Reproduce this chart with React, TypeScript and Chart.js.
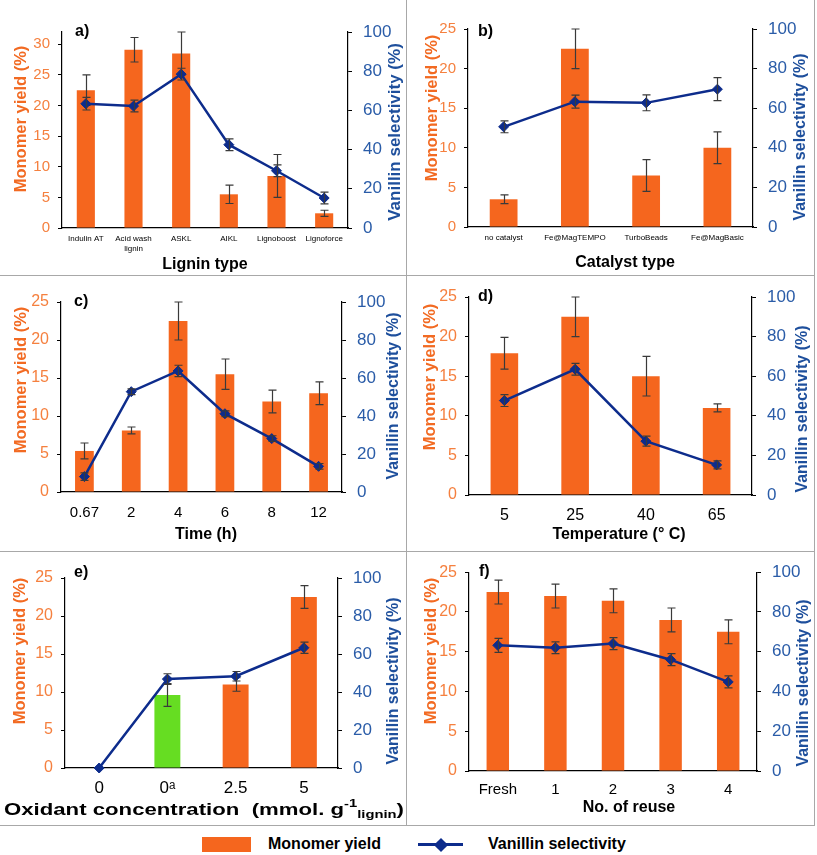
import React, { useEffect, useRef } from "react";
import { Chart, registerables } from "chart.js";
Chart.register(...registerables);

// ---------------- Data ----------------
const ligninLabels = ["Indulin AT", ["Acid wash", "lignin"], "ASKL", "AIKL", "Lignoboost", "Lignoforce"];
const ligninYield = [22.5, 29.1, 28.5, 5.5, 8.5, 2.4];
const ligninYieldErr = [2.5, 2.0, 3.5, 1.5, 3.5, 0.5];
const ligninSelectivity = [63.4, 62.2, 78.5, 42.5, 29.2, 15.3];
const ligninSelectivityErr = [3.2, 3.0, 3.0, 3.0, 3.0, 3.0];

const catalystLabels = ["no catalyst", "Fe@MagTEMPO", "TurboBeads", "Fe@MagBasic"];
const catalystYield = [3.5, 22.5, 6.5, 10.0];
const catalystYieldErr = [0.55, 2.5, 2.0, 2.0];
const catalystSelectivity = [50.6, 63.3, 62.7, 69.6];
const catalystSelectivityErr = [3.0, 3.3, 4.0, 5.8];

const timeLabels = ["0.67", "2", "4", "6", "8", "12"];
const timeYield = [5.4, 8.1, 22.5, 15.5, 11.9, 13.0];
const timeYieldErr = [1.05, 0.45, 2.5, 2.0, 1.5, 1.5];
const timeSelectivity = [8.1, 52.8, 63.7, 41.2, 28.1, 13.5];
const timeSelectivityErr = [2.0, 1.5, 3.0, 1.5, 1.5, 1.5];

const tempLabels = ["5", "25", "40", "65"];
const tempYield = [17.9, 22.5, 15.0, 11.0];
const tempYieldErr = [2.0, 2.5, 2.5, 0.5];
const tempSelectivity = [47.7, 63.5, 27.2, 15.2];
const tempSelectivityErr = [3.0, 3.0, 2.5, 2.0];

const oxidantLabels = ["0", "0\u1d43", "2.5", "5"];
const oxidantYield = [0, 9.6, 11.0, 22.5];
const oxidantYieldErr = [0, 1.5, 0.9, 1.5];
const oxidantSelectivity = [0, 46.8, 48.3, 63.3];
const oxidantSelectivityErr = [0, 2.8, 2.5, 3.0];

const reuseLabels = ["Fresh", "1", "2", "3", "4"];
const reuseYield = [22.5, 22.0, 21.4, 19.0, 17.5];
const reuseYieldErr = [1.5, 1.5, 1.5, 1.5, 1.5];
const reuseSelectivity = [63.2, 62.0, 64.1, 56.0, 44.8];
const reuseSelectivityErr = [3.5, 3.0, 3.0, 3.0, 3.0];

const yieldTitle = "Monomer yield (%)";
const selectivityTitle = "Vanillin selectivity (%)";
const legendYield = "Monomer yield";
const legendSelectivity = "Vanillin selectivity";

// ---------------- Styles ----------------
const FF = "'Liberation Sans', Arial, Helvetica, sans-serif";
const ORANGE = "#F5661E";
const GREEN = "#66DD22";
const ORANGE_TICK = "#F5803F";
const ORANGE_TITLE = "#F26A22";
const BLUE = "#0D2C8C";
const BLUE_TICK = "#2A5CA8";
const BLUE_TITLE = "#1E4F9C";
const ERR = "#3a3a3a";

type Spec = any;

const panels: Spec[] = [
  {
    key: "a", box: [0, 0, 406, 275], plot: [62, 32, 348, 228],
    labels: ligninLabels, yieldData: ligninYield, yieldErr: ligninYieldErr,
    selData: ligninSelectivity, selErr: ligninSelectivityErr, yMax: 32,
    letter: "a)", letterPos: [75, 32],
    leftTitlePos: [21, 119], leftTitleSize: 16.5,
    rightTitlePos: [395, 132], rightTitleSize: 17,
    xTitle: "Lignin type", xTitlePos: [205, 265],
    xTickFont: 8, xTickPad: 6, barPct: 0.38, leftTickFont: 15,
  },
  {
    key: "b", box: [406, 0, 817, 275], plot: [468, 29, 753, 227],
    labels: catalystLabels, yieldData: catalystYield, yieldErr: catalystYieldErr,
    selData: catalystSelectivity, selErr: catalystSelectivityErr, yMax: 25,
    letter: "b)", letterPos: [478, 32],
    leftTitlePos: [432, 108], leftTitleSize: 16.5,
    rightTitlePos: [801, 137], rightTitleSize: 16,
    xTitle: "Catalyst type", xTitlePos: [625, 263],
    xTickFont: 8, xTickPad: 6, barPct: 0.39, leftTickFont: 15,
  },
  {
    key: "c", box: [0, 275, 406, 551], plot: [61, 302, 342, 492],
    labels: timeLabels, yieldData: timeYield, yieldErr: timeYieldErr,
    selData: timeSelectivity, selErr: timeSelectivityErr, yMax: 25,
    letter: "c)", letterPos: [74, 302],
    leftTitlePos: [21, 380], leftTitleSize: 16.5,
    rightTitlePos: [394, 396], rightTitleSize: 16,
    xTitle: "Time (h)", xTitlePos: [206, 535],
    xTickFont: 15, xTickPad: 12, barPct: 0.4, leftTickFont: 16,
  },
  {
    key: "d", box: [406, 275, 817, 551], plot: [469, 297, 752, 495],
    labels: tempLabels, yieldData: tempYield, yieldErr: tempYieldErr,
    selData: tempSelectivity, selErr: tempSelectivityErr, yMax: 25,
    letter: "d)", letterPos: [478, 297],
    leftTitlePos: [430, 377], leftTitleSize: 16.5,
    rightTitlePos: [803, 409], rightTitleSize: 16,
    xTitle: "Temperature (\u00b0 C)", xTitlePos: [619, 535],
    xTickFont: 16, xTickPad: 11, barPct: 0.39, leftTickFont: 16,
  },
  {
    key: "e", box: [0, 551, 406, 825], plot: [65, 578, 338, 768],
    labels: oxidantLabels, yieldData: oxidantYield, yieldErr: oxidantYieldErr,
    selData: oxidantSelectivity, selErr: oxidantSelectivityErr, yMax: 25,
    barColors: [ORANGE, GREEN, ORANGE, ORANGE],
    letter: "e)", letterPos: [74, 573],
    leftTitlePos: [20, 651], leftTitleSize: 16.5,
    rightTitlePos: [394, 681], rightTitleSize: 16,
    xTitle: null, xTitlePos: [204, 810], richWidth: 400,
    xTickFont: 17, xTickPad: 10, barPct: 0.38, leftTickFont: 16,
  },
  {
    key: "f", box: [406, 551, 817, 825], plot: [469, 570, 757, 771],
    labels: reuseLabels, yieldData: reuseYield, yieldErr: reuseYieldErr,
    selData: reuseSelectivity, selErr: reuseSelectivityErr, yMax: 25,
    letter: "f)", letterPos: [479, 572],
    leftTitlePos: [431, 651], leftTitleSize: 16.5,
    rightTitlePos: [804, 683], rightTitleSize: 16,
    xTitle: "No. of reuse", xTitlePos: [629, 808],
    xTickFont: 15, xTickPad: 10, barPct: 0.39, leftTickFont: 16,
  },
];

// ---------------- Plugins ----------------
const errorBarPlugin = {
  id: "errorBars",
  afterDatasetDraw(chart: any, args: any) {
    const ds = chart.data.datasets[args.index];
    const errs = ds.errors;
    if (!errs) return;
    const meta = args.meta;
    const scale = chart.scales[meta.yAxisID];
    const ctx = chart.ctx;
    ctx.save();
    ctx.strokeStyle = ERR;
    ctx.lineWidth = 1.2;
    meta.data.forEach((el: any, i: number) => {
      const v = ds.data[i];
      const e = errs[i];
      if (v == null || !e) return;
      const x = Math.round(el.x) + 0.5;
      const yt = scale.getPixelForValue(v + e);
      const yb = scale.getPixelForValue(v - e);
      ctx.beginPath();
      ctx.moveTo(x, yt);
      ctx.lineTo(x, yb);
      ctx.moveTo(x - 4, yt);
      ctx.lineTo(x + 4, yt);
      ctx.moveTo(x - 4, yb);
      ctx.lineTo(x + 4, yb);
      ctx.stroke();
    });
    ctx.restore();
  },
};

function textPlugin(p: Spec) {
  const ox = p.box[0];
  const oy = p.box[1];
  const rotated = (ctx: any, text: string, x: number, y: number, font: string, color: string) => {
    ctx.save();
    ctx.translate(x - ox, y - oy);
    ctx.rotate(-Math.PI / 2);
    ctx.font = font;
    ctx.fillStyle = color;
    ctx.textAlign = "center";
    ctx.textBaseline = "middle";
    ctx.fillText(text, 0, 0);
    ctx.restore();
  };
  return {
    id: "panelText" + p.key,
    afterDraw(chart: any) {
      const ctx = chart.ctx;
      rotated(ctx, yieldTitle, p.leftTitlePos[0], p.leftTitlePos[1], `bold ${p.leftTitleSize}px ${FF}`, ORANGE_TITLE);
      rotated(ctx, selectivityTitle, p.rightTitlePos[0], p.rightTitlePos[1], `bold ${p.rightTitleSize}px ${FF}`, BLUE_TITLE);
      ctx.save();
      ctx.fillStyle = "#000";
      ctx.font = `bold 16px ${FF}`;
      ctx.textAlign = "left";
      ctx.textBaseline = "middle";
      ctx.fillText(p.letter, p.letterPos[0] - ox, p.letterPos[1] - oy);
      if (p.xTitle) {
        ctx.textAlign = "center";
        ctx.fillText(p.xTitle, p.xTitlePos[0] - ox, p.xTitlePos[1] - oy);
      } else {
        const segs = [
          { t: "Oxidant concentration  (mmol. g", s: 16.5, dy: 0 },
          { t: "-1", s: 11, dy: -6 },
          { t: "lignin", s: 11, dy: 5 },
          { t: ")", s: 16.5, dy: 0 },
        ];
        let total = 0;
        const widths = segs.map((sg) => {
          ctx.font = `bold ${sg.s}px ${FF}`;
          const w = ctx.measureText(sg.t).width;
          total += w;
          return w;
        });
        const sx = p.richWidth / total;
        ctx.translate(p.xTitlePos[0] - ox, p.xTitlePos[1] - oy);
        ctx.scale(sx, 1);
        let x = -total / 2;
        ctx.textAlign = "left";
        segs.forEach((sg, i) => {
          ctx.font = `bold ${sg.s}px ${FF}`;
          ctx.fillText(sg.t, x, sg.dy);
          x += widths[i];
        });
      }
      ctx.restore();
    },
  };
}

function buildConfig(p: Spec): any {
  return {
    type: "bar",
    data: {
      labels: p.labels,
      datasets: [
        {
          type: "line",
          label: legendSelectivity,
          data: p.selData,
          errors: p.selErr,
          yAxisID: "y2",
          borderColor: BLUE,
          backgroundColor: BLUE,
          borderWidth: 2.5,
          pointStyle: "rectRot",
          pointRadius: 5,
          pointBackgroundColor: BLUE,
          pointBorderColor: BLUE,
          pointBorderWidth: 1,
          tension: 0,
          clip: false,
          order: 1,
        },
        {
          type: "bar",
          label: legendYield,
          data: p.yieldData,
          errors: p.yieldErr,
          yAxisID: "y",
          backgroundColor: p.barColors || ORANGE,
          barPercentage: p.barPct,
          categoryPercentage: 1,
          order: 2,
        },
      ],
    },
    options: {
      responsive: false,
      animation: false,
      devicePixelRatio: 1,
      events: [],
      layout: { padding: { left: 0, right: 0, top: p.plot[1] - p.box[1], bottom: 0 } },
      plugins: { legend: { display: false }, tooltip: { enabled: false } },
      scales: {
        x: {
          type: "category",
          offset: true,
          grid: { display: false, drawTicks: false },
          border: { display: true, color: "#000", width: 1.2 },
          ticks: {
            color: "#000",
            font: { family: FF, size: p.xTickFont },
            padding: p.xTickPad,
            maxRotation: 0,
            autoSkip: false,
          },
          afterFit: (s: any) => {
            s.height = p.box[3] - p.plot[3];
          },
        },
        y: {
          position: "left",
          min: 0,
          max: p.yMax,
          ticks: {
            stepSize: 5,
            includeBounds: false,
            color: ORANGE_TICK,
            font: { family: FF, size: p.leftTickFont },
            padding: 8,
          },
          grid: { display: true, drawOnChartArea: false, drawTicks: true, tickLength: 4, color: "#000" },
          border: { display: true, color: "#000", width: 1.2 },
          afterFit: (s: any) => {
            s.width = p.plot[0] - p.box[0];
          },
        },
        y2: {
          position: "right",
          min: 0,
          max: 100,
          ticks: {
            stepSize: 20,
            color: BLUE_TICK,
            font: { family: FF, size: 17 },
            padding: 11,
          },
          grid: { display: true, drawOnChartArea: false, drawTicks: true, tickLength: 4, color: "#000" },
          border: { display: true, color: "#000", width: 1.2 },
          afterFit: (s: any) => {
            s.width = p.box[2] - p.plot[2];
          },
        },
      },
    },
    plugins: [errorBarPlugin, textPlugin(p)],
  };
}

function Panel({ spec }: { spec: Spec }) {
  const ref = useRef<HTMLCanvasElement>(null);
  useEffect(() => {
    const chart = new Chart(ref.current as HTMLCanvasElement, buildConfig(spec));
    return () => chart.destroy();
  }, [spec]);
  const w = spec.box[2] - spec.box[0];
  const h = spec.box[3] - spec.box[1];
  return (
    <canvas
      ref={ref}
      width={w}
      height={h}
      style={{ position: "absolute", left: spec.box[0], top: spec.box[1], width: w, height: h }}
    />
  );
}

const LINE = "#A8A8A8";

export default function App() {
  return (
    <div
      style={{
        position: "absolute",
        left: 0,
        top: 0,
        width: 817,
        height: 855,
        background: "#fff",
        overflow: "hidden",
        fontFamily: FF,
      }}
    >
      {panels.map((p) => (
        <Panel key={p.key} spec={p} />
      ))}
      {/* panel frame lines */}
      <div style={{ position: "absolute", left: 406, top: 0, width: 1, height: 825, background: LINE }} />
      <div style={{ position: "absolute", left: 814, top: 0, width: 1, height: 825, background: LINE }} />
      <div style={{ position: "absolute", left: 0, top: 275, width: 815, height: 1, background: LINE }} />
      <div style={{ position: "absolute", left: 0, top: 551, width: 815, height: 1, background: LINE }} />
      <div style={{ position: "absolute", left: 0, top: 825, width: 815, height: 1, background: LINE }} />
      {/* legend */}
      <div style={{ position: "absolute", left: 202, top: 837, width: 49, height: 15, background: ORANGE }} />
      <div
        style={{
          position: "absolute",
          left: 268,
          top: 834,
          height: 20,
          lineHeight: "20px",
          fontSize: 16,
          fontWeight: "bold",
          color: "#000",
          whiteSpace: "nowrap",
        }}
      >
        {legendYield}
      </div>
      <div style={{ position: "absolute", left: 418, top: 843, width: 45, height: 3, background: BLUE }} />
      <div
        style={{
          position: "absolute",
          left: 436,
          top: 839.5,
          width: 10,
          height: 10,
          background: BLUE,
          transform: "rotate(45deg)",
        }}
      />
      <div
        style={{
          position: "absolute",
          left: 488,
          top: 834,
          height: 20,
          lineHeight: "20px",
          fontSize: 16,
          fontWeight: "bold",
          color: "#000",
          whiteSpace: "nowrap",
        }}
      >
        {legendSelectivity}
      </div>
    </div>
  );
}
